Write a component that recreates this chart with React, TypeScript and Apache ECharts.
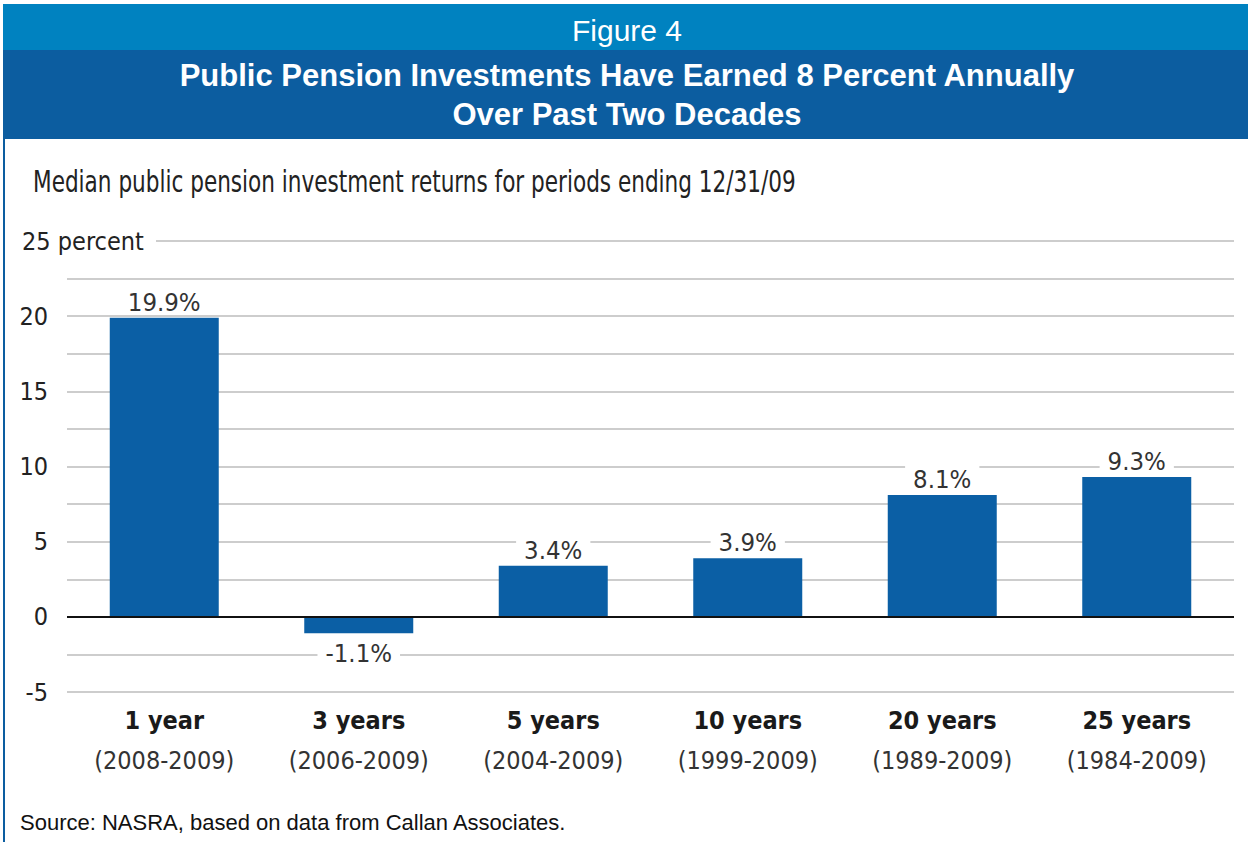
import React, { useEffect, useRef } from "react";
import * as echarts from "echarts";

const categories = ["1 year", "3 years", "5 years", "10 years", "20 years", "25 years"];
const periods = ["(2008-2009)", "(2006-2009)", "(2004-2009)", "(1999-2009)", "(1989-2009)", "(1984-2009)"];
const values = [19.9, -1.1, 3.4, 3.9, 8.1, 9.3];
const yMin = -5;
const yMax = 25;
const yStep = 2.5;

const NARROW = "'DejaVu Sans Condensed', 'Liberation Sans Narrow', sans-serif";
const SANS = "'Liberation Sans', Arial, sans-serif";

export default function App() {
  const ref = useRef<HTMLDivElement>(null);
  useEffect(() => {
    document.body.style.margin = "0";
    const chart = echarts.init(ref.current!, null, { renderer: "svg" });
    chart.setOption({
      animation: false,
      backgroundColor: "#ffffff",
      grid: { left: 67, right: 14, top: 241, bottom: 150, containLabel: false },
      xAxis: {
        type: "category",
        data: categories.map((c, i) => `${c}\n${periods[i]}`),
        axisLine: { show: false, onZero: false },
        axisTick: { show: false },
        axisLabel: {
          margin: 8,
          interval: 0,
          formatter: (v: string) => {
            const [a, b] = v.split("\n");
            return `{b|${a}}\n{r|${b}}`;
          },
          rich: {
            b: { fontFamily: NARROW, fontSize: 25, fontWeight: "bold", color: "#1a1a1a", lineHeight: 40 },
            r: { fontFamily: NARROW, fontSize: 25, color: "#333333", lineHeight: 40 },
          },
        },
      },
      yAxis: {
        type: "value",
        min: yMin,
        max: yMax,
        interval: yStep,
        axisLine: { show: false },
        axisTick: { show: false },
        splitLine: { lineStyle: { color: "#bdbdbd", width: 1.5 } },
        axisLabel: {
          margin: 19,
          fontFamily: NARROW,
          fontSize: 25,
          color: "#222222",
          formatter: (v: number) => (v % 5 === 0 && v !== yMax ? String(v) : ""),
        },
      },
      series: [
        {
          type: "bar",
          data: values.map((v) => ({
            value: v,
            label: v < 0 ? { position: "bottom", distance: 7 } : { position: "top", distance: 3 },
          })),
          barWidth: 109,
          itemStyle: { color: "#0b5fa5" },
          label: {
            show: true,
            formatter: (p: any) => `${p.value}%`,
            fontFamily: NARROW,
            fontSize: 25.5,
            color: "#333333",
            backgroundColor: "#ffffff",
            padding: [0, 8, 0, 8],
          },
          markLine: {
            silent: true,
            symbol: ["none", "none"],
            label: { show: false },
            lineStyle: { color: "#111111", width: 2, type: "solid" },
            data: [{ yAxis: 0 }],
          },
        },
      ],
      graphic: [
        { type: "rect", left: 3, top: 4, shape: { width: 1245, height: 46 }, style: { fill: "#0082c0" }, z: 100 },
        { type: "rect", left: 3, top: 50, shape: { width: 1245, height: 89 }, style: { fill: "#0c5da0" }, z: 100 },
        { type: "rect", left: 3, top: 139, shape: { width: 2, height: 703 }, style: { fill: "#0c5da0" }, z: 100 },
        {
          type: "text", x: 627, y: 30, z: 101,
          style: { text: "Figure 4", fill: "#ffffff", font: `30px ${SANS}`, textAlign: "center", textVerticalAlign: "middle" },
        },
        {
          type: "text", x: 627, y: 95, z: 101,
          style: {
            text: "Public Pension Investments Have Earned 8 Percent Annually\nOver Past Two Decades",
            fill: "#ffffff", font: `bold 31px ${SANS}`, lineHeight: 39, textAlign: "center", textVerticalAlign: "middle",
          },
        },
        {
          type: "text", x: 33, y: 182, z: 101, scaleX: 0.8, originX: 0,
          style: { text: "Median public pension investment returns for periods ending 12/31/09", fill: "#222222", font: `30px ${NARROW}`, textVerticalAlign: "middle" },
        },
        { type: "rect", left: 60, top: 236, shape: { width: 96, height: 10 }, style: { fill: "#ffffff" }, z: 100 },
        {
          type: "text", x: 22, y: 241, z: 101,
          style: { text: "25 percent", fill: "#222222", font: `25px ${NARROW}`, textVerticalAlign: "middle" },
        },
        {
          type: "text", x: 20, y: 822, z: 101,
          style: { text: "Source: NASRA, based on data from Callan Associates.", fill: "#111111", font: `22px ${SANS}`, textVerticalAlign: "middle" },
        },
      ],
    });
    return () => chart.dispose();
  }, []);
  return <div ref={ref} style={{ position: "absolute", left: 0, top: 0, width: 1248, height: 842 }} />;
}
